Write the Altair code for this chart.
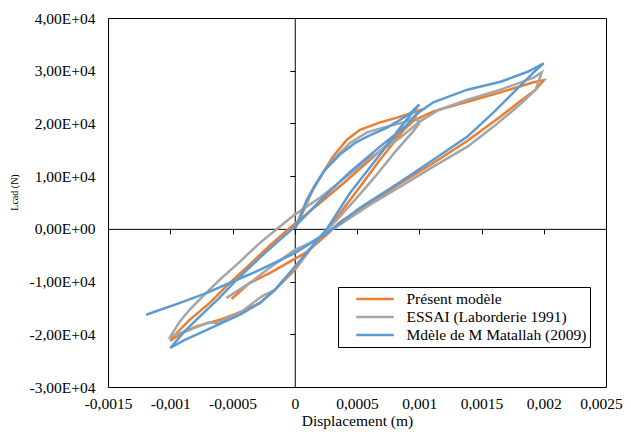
import altair as alt
import pandas as pd

FONT = "Liberation Serif"

series_names = ["Présent modèle", "ESSAI (Laborderie 1991)", "Mdèle de M Matallah (2009)"]
series_colors = ["#ED7D31", "#A5A5A5", "#5B9BD5"]

# displacement in mm (1e-3 m), load in kN (1e3 N)
present_disp_mm = [0, 0.073, 0.145, 0.226, 0.306, 0.419, 0.524, 0.685, 0.823, 0.927, 1.0,
                   0.847, 0.685, 0.524, 0.403, 0.27, 0.121, 0.0, -0.161, -0.282, -0.419, -0.581, -0.79, -0.903, -1.0,
                   -0.95, -0.847, -0.685, -0.524, -0.363, -0.202, 0.0, 0.202, 0.403, 0.605, 0.806, 0.96, 1.113, 1.387, 1.653, 1.919, 2.0,
                   1.935, 1.815, 1.653, 1.387, 1.113, 0.847, 0.605, 0.363, 0.258, 0.097, 0.0, -0.202, -0.363, -0.508]
present_load_kN = [0, 3.6, 7.4, 10.6, 13.7, 16.9, 18.8, 20.2, 21.1, 21.9, 22.5,
                   17.9, 13.1, 8.0, 4.2, 0.0, -4.0, -7.8, -11.6, -14.1, -15.6, -17.1, -18.5, -19.7, -21.2,
                   -19.8, -17.3, -14.1, -10.3, -6.8, -3.2, 1.0, 4.9, 8.9, 13.1, 17.3, 20.6, 22.3, 24.1, 25.9, 27.8, 28.2,
                   26.4, 24.3, 21.3, 16.7, 12.5, 8.6, 4.9, 1.3, -1.1, -4.4, -5.7, -8.4, -10.3, -13.3]

essai_disp_mm = [0, 0.065, 0.145, 0.226, 0.306, 0.444, 0.581, 0.71, 0.806, 0.887, 0.968, 1.0,
                 0.944, 0.806, 0.645, 0.484, 0.323, 0.202, 0.04, -0.161, -0.258, -0.444, -0.629, -0.685, -0.847, -1.0,
                 -0.927, -0.847, -0.726, -0.605, -0.444, -0.282, -0.121, 0.0, 0.202, 0.403, 0.605, 0.847, 1.0, 1.16, 1.387, 1.653, 1.919, 1.984,
                 1.935, 1.79, 1.597, 1.387, 1.113, 0.847, 0.605, 0.363, 0.121, 0.0, -0.202, -0.363, -0.548]
essai_load_kN = [0, 3.6, 7.4, 10.6, 13.1, 16.3, 18.3, 19.2, 19.8, 20.3, 21.3, 20.0,
                 18.3, 14.6, 9.9, 5.5, 1.3, -1.7, -6.3, -11.6, -12.7, -16.0, -17.9, -17.7, -19.2, -20.5,
                 -17.7, -15.4, -12.5, -9.7, -6.3, -2.7, 0.4, 2.7, 5.9, 9.7, 13.5, 17.3, 20.3, 22.6, 24.5, 26.4, 28.7, 29.7,
                 26.4, 23.2, 19.4, 15.6, 11.8, 8.0, 4.6, 0.8, -2.7, -4.0, -7.4, -10.3, -13.1]

matallah_disp_mm = [0, 0.04, 0.097, 0.161, 0.242, 0.363, 0.484, 0.581, 0.742, 0.847, 0.927, 1.0,
                    0.847, 0.685, 0.444, 0.258, 0.121, 0.0, -0.161, -0.282, -0.444, -0.71, -0.887, -1.0,
                    -0.887, -0.766, -0.605, -0.468, -0.282, -0.121, 0.0, 0.202, 0.444, 0.685, 0.887, 0.99, 1.113, 1.387, 1.653, 1.871, 2.0,
                    1.919, 1.758, 1.597, 1.387, 1.113, 0.847, 0.524, 0.258, 0.0, -0.282, -0.468, -0.71, -0.927, -1.194]
matallah_load_kN = [0, 2.1, 5.5, 8.2, 11.2, 14.1, 16.3, 17.5, 19.2, 20.7, 21.9, 23.6,
                    19.2, 14.1, 6.8, 0.0, -3.8, -7.2, -11.6, -14.1, -16.3, -19.2, -21.1, -22.6,
                    -19.5, -16.7, -13.1, -9.7, -5.5, -2.1, 0.4, 5.3, 10.8, 15.6, 19.4, 22.0, 24.0, 26.4, 27.9, 29.8, 31.4,
                    29.7, 25.9, 22.1, 17.5, 13.1, 8.9, 4.0, -0.8, -4.6, -7.8, -9.7, -12.2, -14.1, -16.3]

x_ticks = [-0.0015, -0.001, -0.0005, 0, 0.0005, 0.001, 0.0015, 0.002, 0.0025]
y_ticks = [-30000, -20000, -10000, 0, 10000, 20000, 30000, 40000]

rows = []
for name, dl, fl in zip(series_names,
                        [present_disp_mm, essai_disp_mm, matallah_disp_mm],
                        [present_load_kN, essai_load_kN, matallah_load_kN]):
    for i, (d, f) in enumerate(zip(dl, fl)):
        rows.append({"series": name, "idx": i, "disp": d / 1000.0, "load": f * 1000.0})
df = pd.DataFrame(rows)

W, H = 498, 369
xscale = alt.Scale(domain=[-0.0015, 0.0025], nice=False, zero=False)
yscale = alt.Scale(domain=[-30000, 40000], nice=False, zero=False)

x_off = -(H * 30000 / 70000)
y_off = -(W * 0.0015 / 0.004)

zero_axes = alt.Chart(df).mark_line(opacity=0).encode(
    x=alt.X("disp:Q", scale=xscale, axis=alt.Axis(
        orient="bottom", offset=x_off, values=x_ticks, labels=False, title=None, grid=False,
        domain=True, domainColor="black", domainWidth=1, ticks=True, tickSize=5,
        tickColor="black", tickWidth=1, zindex=0)),
    y=alt.Y("load:Q", scale=yscale, axis=alt.Axis(
        orient="left", offset=y_off, values=y_ticks, labels=False, title=None, grid=False,
        domain=True, domainColor="black", domainWidth=1, ticks=True, tickSize=5,
        tickColor="black", tickWidth=1, zindex=0)),
    detail="series:N",
    order="idx:Q",
)

NBSP = "\u00a0"
lines = alt.Chart(df).mark_line(strokeWidth=2.5).encode(
    x=alt.X("disp:Q", scale=xscale, axis=alt.Axis(
        orient="bottom", values=x_ticks, labelExpr="replace(toString(datum.value), '.', ',')",
        labelOverlap=False, labelBound=False, labelFlush=False,
        labelOffset={"condition": {"test": "datum.value > 0.0024", "value": -5}, "value": 0},
        title="Displacement (m)", grid=False, ticks=False, domain=False,
        labelFont=FONT, labelFontSize=15.5, labelColor="black", labelPadding=9,
        titleFont=FONT, titleFontSize=15.5, titleFontWeight="normal", titleColor="black", titlePadding=2)),
    y=alt.Y("load:Q", scale=yscale, axis=alt.Axis(
        orient="left", values=y_ticks, labelOverlap=False, labelFlush=False,
        labelExpr="datum.value == 0 ? '0,00E+00' : (datum.value < 0 ? '-' : '') + replace(format(abs(datum.value) / 10000, '.2f'), '.', ',') + 'E+04'",
        title="Lcad (N)", grid=False, ticks=False, domain=False,
        labelFont=FONT, labelFontSize=15.5, labelColor="black", labelPadding=13,
        titleFont=FONT, titleFontSize=10, titleFontWeight="normal", titleColor="black",
        titleAngle=270, titleX=-94, titleY=174, titleAlign="center", titleBaseline="middle")),
    color=alt.Color("series:N", scale=alt.Scale(domain=series_names, range=series_colors),
                    legend=alt.Legend(title=None, orient="none", legendX=230, legendY=269,
                                      direction="vertical", symbolType="M-2.5,0L2.5,0", symbolSize=225,
                                      symbolStrokeWidth=2.5, symbolOffset=25,
                                      labelFont=FONT, labelFontSize=15.5, labelLimit=400,
                                      labelExpr="datum.label + '" + NBSP * 3 + "'",
                                      labelColor="black", strokeColor="black", fillColor="white",
                                      padding=3, rowPadding=-1, labelOffset=22.5)),
    order="idx:Q",
)

chart = alt.layer(zero_axes, lines).resolve_axis(x="independent", y="independent").properties(
    width=W, height=H, padding={"left": 1, "top": 3, "right": 0, "bottom": 0}
).configure(font=FONT).configure_view(stroke="black", strokeWidth=1)

chart.save("out.html", embed_options={"renderer": "svg", "actions": False})
